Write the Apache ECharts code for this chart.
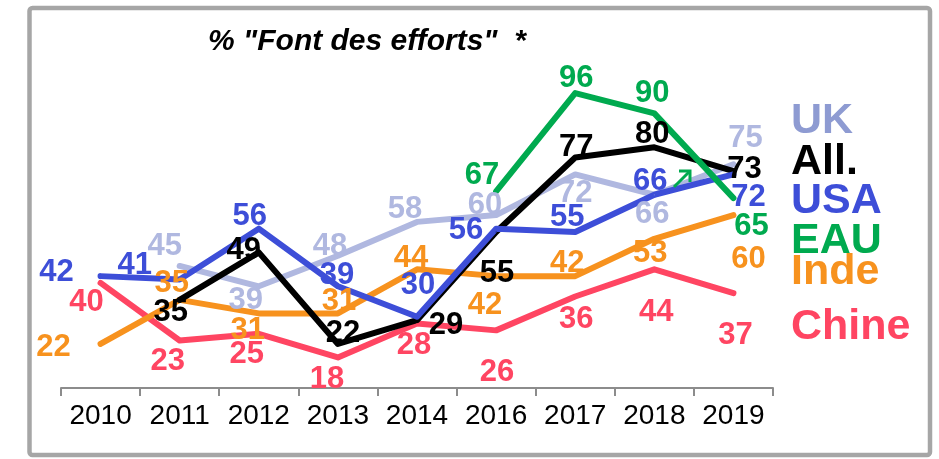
<!DOCTYPE html>
<html>
<head>
<meta charset="utf-8">
<script src="https://cdn.jsdelivr.net/npm/echarts@6/dist/echarts.min.js"></script>
<style>
  html, body { margin: 0; padding: 0; background: #fff; }
  #chart { width: 939px; height: 459px; }
</style>
</head>
<body>
<div id="chart"></div>
<script>
// années
var years = ['2010', '2011', '2012', '2013', '2014', '2016', '2017', '2018', '2019'];

// valeurs
var ukValues    = [null, 45, 39, 48, 58, 60, 72, 66, 75];
var chineValues = [40, 23, 25, 18, 28, 26, 36, 44, 37];
var indeValues  = [22, 35, 31, 31, 44, 42, 42, 53, 60];
var allValues   = [null, 35, 49, 22, 29, 55, 77, 80, 73];
var usaValues   = [42, 41, 56, 39, 30, 56, 55, 66, 72];
var eauValues   = [null, null, null, null, null, 67, 96, 90, 65];

// décalage des étiquettes (comme dans le graphique Excel)
var ukOffsets    = [null, [-15, -20], [-13, 14], [-8, -9], [-12, -12], [-11, -10], [0, 19], [-2, 20], [12, -26]];
var chineOffsets = [[-14, 20], [-12, 21], [-12, 21], [-11, 22], [-3, 22], [1, 42], [1, 23], [2, 43], [2, 42]];
var indeOffsets  = [[-47, 4], [-8, -16], [-11, 17], [1, -12], [-6, -11], [-11, 29], [-8, -13], [-4, 15], [15, 44]];
var allOffsets   = [null, [-9, 13], [-15, -2], [5, -10], [29, 5], [1, 41], [1, -10], [-2, -13], [11, -2]];
var usaOffsets   = [[-44, -4], [-45, -14], [-9, -12], [-1, -11], [1, -31], [-30, 2], [-8, -15], [-4, -13], [15, 23]];
var eauOffsets   = [null, null, null, null, null, [-14, -16], [1, -15], [-2, -20], [18, 28]];

var FONT = '"Liberation Sans", Arial, sans-serif';

function makeSeries(name, values, offsets, color) {
  return {
    name: name,
    type: 'line',
    data: values.map(function (v, i) {
      if (v == null) return null;
      return { value: v, label: { offset: offsets[i] } };
    }),
    symbol: 'circle',
    symbolSize: 1,
    itemStyle: { color: color },
    lineStyle: { color: color, width: 6, cap: 'round', join: 'round' },
    label: {
      show: true,
      position: 'inside',
      color: color,
      fontFamily: FONT,
      fontWeight: 'bold',
      fontSize: 31
    },
    emphasis: { disabled: true },
    silent: true
  };
}

var chart = echarts.init(document.getElementById('chart'));

chart.setOption({
  animation: false,
  grid: { left: 61, right: 166, top: 79.5, bottom: 71 },
  xAxis: {
    type: 'category',
    data: years,
    boundaryGap: true,
    axisLine: { lineStyle: { color: '#8c8c8c', width: 2 } },
    axisTick: { show: true, length: 8, interval: 0, lineStyle: { color: '#8c8c8c', width: 2 } },
    axisLabel: { color: '#000', fontFamily: FONT, fontSize: 28, margin: 14, interval: 0 }
  },
  yAxis: {
    type: 'value',
    min: 9,
    max: 100,
    show: false
  },
  series: [
    makeSeries('UK', ukValues, ukOffsets, '#b0b8e0'),
    makeSeries('Chine', chineValues, chineOffsets, '#ff4562'),
    makeSeries('Inde', indeValues, indeOffsets, '#f7921e'),
    makeSeries('All.', allValues, allOffsets, '#000000'),
    makeSeries('USA', usaValues, usaOffsets, '#3d4ed8'),
    makeSeries('EAU', eauValues, eauOffsets, '#00aa4f')
  ],
  graphic: [
    {
      type: 'rect',
      shape: { x: 29.5, y: 8, width: 900.5, height: 447, r: 3 },
      style: { fill: 'none', stroke: '#a6a6a6', lineWidth: 4.5 },
      silent: true
    },
    {
      type: 'text', left: 208, top: 27,
      style: { text: '% "Font des efforts"  *', fill: '#000', font: 'italic bold 30px ' + FONT }
    },
    // petite flèche verte près de 2018
    {
      type: 'polyline', silent: true, z: 100,
      shape: { points: [[674, 187], [690, 171]] },
      style: { stroke: '#00aa4f', lineWidth: 3, fill: 'none' }
    },
    {
      type: 'polyline', silent: true, z: 100,
      shape: { points: [[679, 171], [690, 171], [690, 182]] },
      style: { stroke: '#00aa4f', lineWidth: 3, fill: 'none' }
    },
    { type: 'text', x: 791, y: 121, style: { text: 'UK', fill: '#8e9bd2', font: 'bold 43px ' + FONT, verticalAlign: 'middle' } },
    { type: 'text', x: 791, y: 162, style: { text: 'All.', fill: '#000', font: 'bold 43px ' + FONT, verticalAlign: 'middle' } },
    { type: 'text', x: 791, y: 201, style: { text: 'USA', fill: '#3d4ed8', font: 'bold 43px ' + FONT, verticalAlign: 'middle' } },
    { type: 'text', x: 791, y: 241, style: { text: 'EAU', fill: '#00aa4f', font: 'bold 43px ' + FONT, verticalAlign: 'middle' } },
    { type: 'text', x: 791, y: 272, style: { text: 'Inde', fill: '#f7921e', font: 'bold 43px ' + FONT, verticalAlign: 'middle' } },
    { type: 'text', x: 791, y: 327, style: { text: 'Chine', fill: '#ff4562', font: 'bold 43px ' + FONT, verticalAlign: 'middle' } }
  ]
});
</script>
</body>
</html>
